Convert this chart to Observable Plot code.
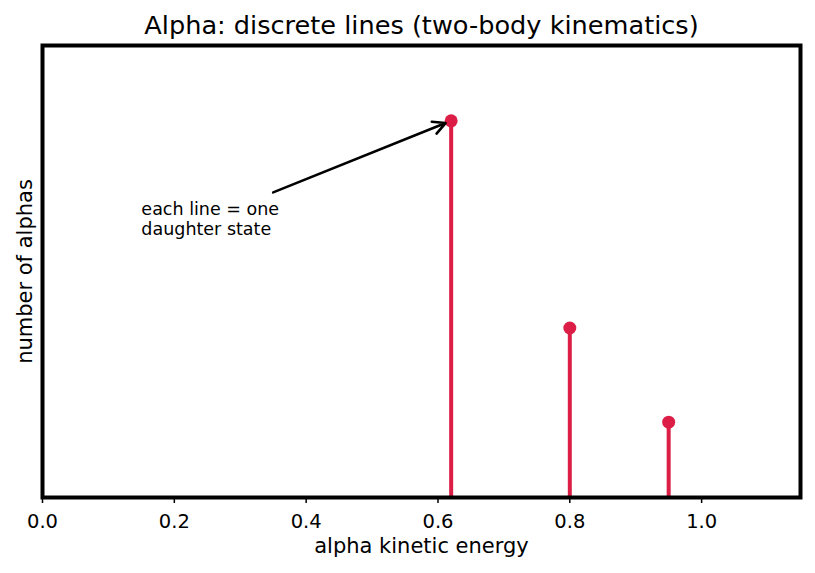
<!DOCTYPE html>
<html>
<head>
<meta charset="utf-8">
<script src="https://cdn.jsdelivr.net/npm/d3@7"></script>
<script src="https://cdn.jsdelivr.net/npm/@observablehq/plot@0.6"></script>
<style>
  html, body { margin: 0; padding: 0; background: #fff; }
  svg { font-family: "DejaVu Sans", sans-serif; }
</style>
</head>
<body>
<div id="chart"></div>
<script>
// Alpha-decay line energies (arbitrary units) and relative intensities
const energies = [0.62, 0.80, 0.95];
const counts = [1.0, 0.45, 0.2];
const xTicks = [0.0, 0.2, 0.4, 0.6, 0.8, 1.0];

// Annotation: label position and arrow endpoints
const noteText = "each line = one\ndaughter state";
const noteAt = [0.15, 0.787];
const arrowFrom = [0.35, 0.81];
const arrowTo = [0.62, 1.0];

const lines = energies.map((e, i) => ({energy: e, count: counts[i]}));
const red = "#dc1e46";

const chart = Plot.plot({
  width: 815,
  height: 573,
  marginLeft: 42,
  marginRight: 15,
  marginTop: 45,
  marginBottom: 76,
  style: {fontFamily: "DejaVu Sans, sans-serif", fontSize: "19.5px", color: "#000", background: "#fff"},
  x: {domain: [0, 1.15], label: null},
  y: {domain: [0, 1.2], axis: null},
  marks: [
    Plot.ruleX(lines, {x: "energy", y1: 0, y2: "count", stroke: red, strokeWidth: 4}),
    Plot.dot(lines, {x: "energy", y: "count", r: 6.5, fill: red, stroke: "none"}),
    Plot.arrow([{}], {
      x1: () => arrowFrom[0], y1: () => arrowFrom[1],
      x2: () => arrowTo[0], y2: () => arrowTo[1],
      stroke: "#000", strokeWidth: 2.6, headLength: 8, headAngle: 55, insetEnd: 6, bend: false
    }),
    Plot.text([noteText], {
      x: () => noteAt[0], y: () => noteAt[1], text: d => d,
      textAnchor: "start", lineAnchor: "top", fontSize: 17.5, lineHeight: 1.15, fill: "#000"
    }),
    Plot.frame({stroke: "#000", strokeWidth: 4}),
    // tick marks from the axis, tick labels as a text mark for full control over size
    Plot.axisX({ticks: xTicks, tickSize: 6, strokeWidth: 1.5, text: null, label: null}),
    Plot.text(xTicks, {
      x: d => d, text: d => d.toFixed(1), frameAnchor: "bottom", lineAnchor: "top",
      dy: 17, fontSize: 19.5, fill: "#000"
    }),
    Plot.text(["alpha kinetic energy"], {frameAnchor: "bottom", lineAnchor: "middle", dy: 49, fontSize: 21, fill: "#000"}),
    Plot.text(["number of alphas"], {frameAnchor: "left", textAnchor: "middle", lineAnchor: "middle", dx: -17.5, rotate: -90, fontSize: 21, fill: "#000"}),
    Plot.text(["Alpha: discrete lines (two-body kinematics)"], {frameAnchor: "top", lineAnchor: "middle", dy: -19.5, fontSize: 25.6, fill: "#000"})
  ]
});
document.getElementById("chart").append(chart);
</script>
</body>
</html>
